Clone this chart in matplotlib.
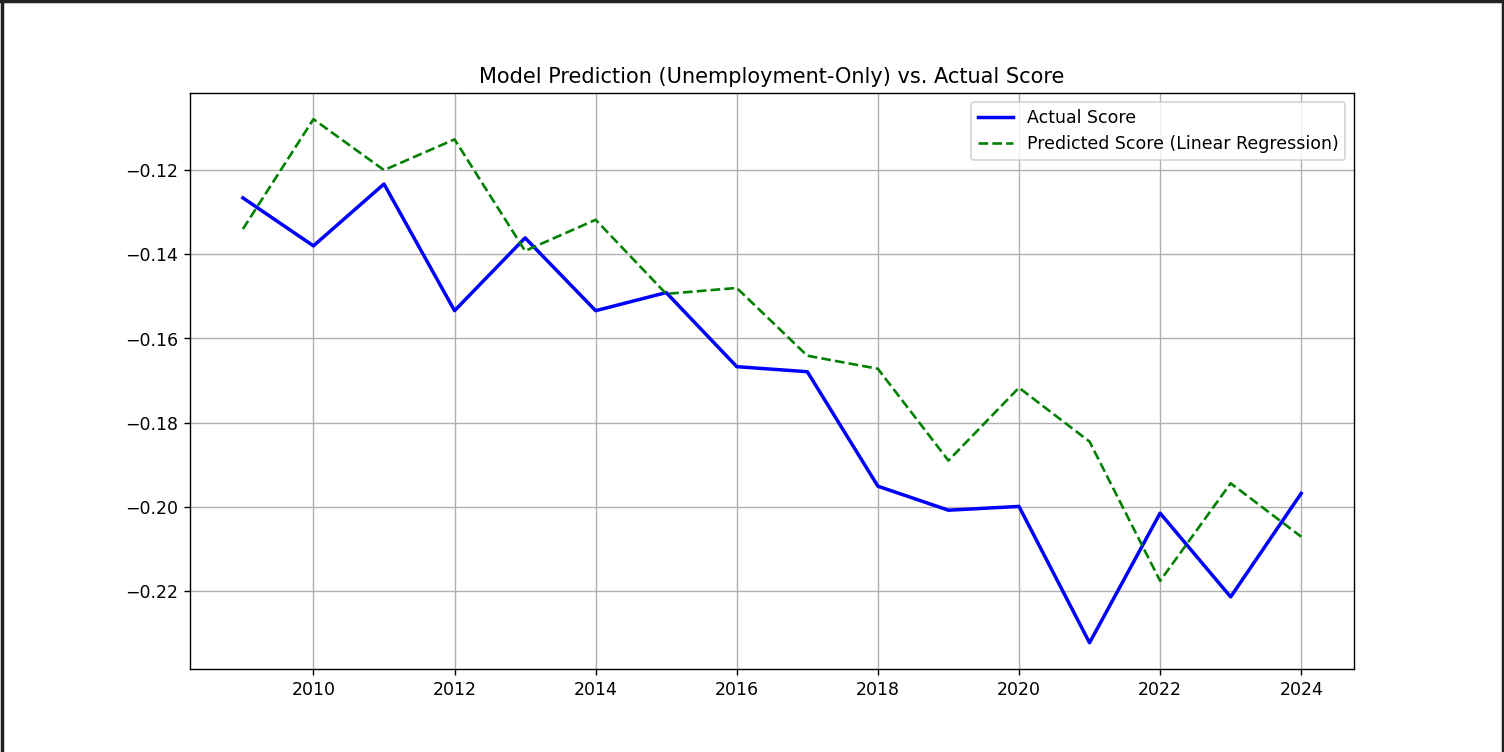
import matplotlib
matplotlib.use('Agg')
import matplotlib.pyplot as plt
from matplotlib.lines import Line2D

# Years and scores
years = list(range(2009, 2025))
actual_score = [-0.1266, -0.1380, -0.1233, -0.1534, -0.1361, -0.1534, -0.1491, -0.1667,
                -0.1679, -0.1951, -0.2008, -0.1999, -0.2323, -0.2015, -0.2214, -0.1968]
predicted_score = [-0.1340, -0.1079, -0.1200, -0.1127, -0.1392, -0.1318, -0.1494, -0.1480,
                   -0.1641, -0.1672, -0.1890, -0.1717, -0.1845, -0.2176, -0.1944, -0.2071]

fig = plt.figure(figsize=(12, 6), dpi=125.34)
fig.subplots_adjust(left=0.1263, right=0.9003, top=0.8763, bottom=0.1104)
ax = fig.add_subplot(111)
ax.plot(years, actual_score, color='blue', linewidth=2, label='Actual Score')
ax.plot(years, predicted_score, color='green', linestyle='--', label='Predicted Score (Linear Regression)')
ax.set_title('Model Prediction (Unemployment-Only) vs. Actual Score')
ax.legend()
ax.grid(True)

# screenshot frame around the picture
for xs, ys in [([0, 1], [0.999, 0.999]), ([0.001, 0.001], [0, 1]), ([0.9995, 0.9995], [0, 1])]:
    fig.add_artist(Line2D(xs, ys, transform=fig.transFigure, color='#222222', linewidth=2))

fig.savefig('out.png', dpi=125.34)
